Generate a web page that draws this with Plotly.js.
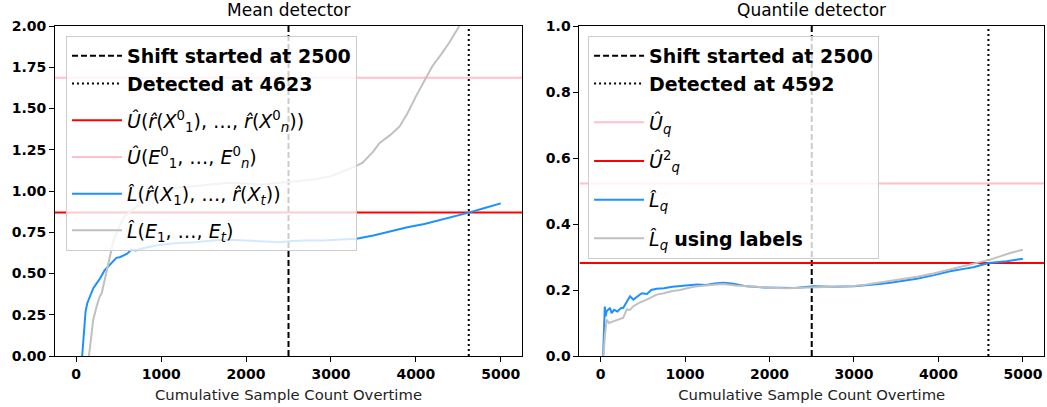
<!DOCTYPE html>
<html>
<head>
<meta charset="utf-8">
<script src="https://cdn.plot.ly/plotly-3.0.1.min.js"></script>
<style>html,body{margin:0;padding:0;background:#fff;}#chart{width:1047px;height:407px;}</style>
</head>
<body>
<div id="chart"></div>
<script>
// ---- Data ----
const xTicks = [0, 1000, 2000, 3000, 4000, 5000];
const xRange = [-250, 5250];

// Mean detector
const meanShift = 2500;
const meanDetected = 4623;
const meanUpperR = 0.869;   // Û(r̂(X^0_1..n))
const meanUpperE = 1.686;   // Û(E^0_1..n)
const meanLowerRx = [70, 90, 110, 130, 160, 200, 240, 280, 335, 380, 420, 473, 520, 560, 600, 650, 700, 800, 900, 1000, 1200, 1400, 1600, 1800, 2000, 2200, 2400, 2500, 2700, 2900, 3100, 3300, 3500, 3700, 3900, 4100, 4300, 4500, 4623, 4800, 5000];
const meanLowerRy = [0, 0.15, 0.27, 0.32, 0.36, 0.41, 0.44, 0.47, 0.52, 0.545, 0.57, 0.595, 0.60, 0.61, 0.62, 0.645, 0.64, 0.655, 0.665, 0.675, 0.685, 0.69, 0.70, 0.705, 0.70, 0.695, 0.69, 0.695, 0.70, 0.70, 0.705, 0.71, 0.73, 0.755, 0.78, 0.80, 0.825, 0.85, 0.869, 0.895, 0.925];
const meanLowerEx = [150, 175, 200, 240, 276, 300, 335, 360, 374, 400, 433, 470, 512, 560, 620, 700, 800, 900, 1000, 1200, 1400, 1600, 1800, 2000, 2200, 2400, 2600, 2800, 3000, 3200, 3370, 3500, 3570, 3700, 3806, 3900, 4002, 4100, 4194, 4300, 4394, 4512, 4700, 5000];
const meanLowerEy = [0, 0.12, 0.22, 0.30, 0.36, 0.38, 0.46, 0.52, 0.565, 0.62, 0.686, 0.74, 0.79, 0.84, 0.87, 0.90, 0.95, 0.98, 1.00, 1.02, 1.03, 1.04, 1.05, 1.045, 1.04, 1.05, 1.06, 1.07, 1.09, 1.13, 1.17, 1.24, 1.29, 1.34, 1.39, 1.47, 1.575, 1.67, 1.756, 1.83, 1.90, 2.0, 2.15, 2.35];

// Quantile detector
const quantShift = 2500;
const quantDetected = 4592;
const quantUpper = 0.523;   // Û_q
const quantUpper2 = 0.282;  // Û²_q
const quantLowerX = [30, 50, 60, 72, 90, 111, 130, 160, 200, 240, 269, 300, 348, 388, 430, 487, 550, 600, 664, 750, 850, 940, 1050, 1138, 1250, 1350, 1453, 1550, 1650, 1730, 1900, 2124, 2300, 2520, 2755, 3000, 3151, 3300, 3427, 3600, 3743, 3950, 4137, 4300, 4414, 4592, 4809, 5000];
const quantLowerY = [0, 0.15, 0.12, 0.136, 0.14, 0.146, 0.13, 0.14, 0.135, 0.145, 0.146, 0.16, 0.181, 0.171, 0.18, 0.19, 0.188, 0.20, 0.204, 0.205, 0.21, 0.2115, 0.214, 0.217, 0.215, 0.22, 0.222, 0.22, 0.215, 0.211, 0.208, 0.207, 0.206, 0.2115, 0.21, 0.211, 0.2136, 0.218, 0.222, 0.228, 0.234, 0.245, 0.257, 0.264, 0.269, 0.282, 0.287, 0.295];
const quantLabelX = [35, 50, 72, 100, 150, 200, 269, 309, 350, 388, 450, 546, 600, 664, 750, 850, 940, 1100, 1300, 1450, 1600, 1800, 2000, 2200, 2400, 2600, 2800, 3000, 3151, 3350, 3545, 3750, 3940, 4140, 4335, 4500, 4611, 4730, 4850, 5000];
const quantLabelY = [0, 0.06, 0.11, 0.10, 0.105, 0.11, 0.116, 0.141, 0.14, 0.151, 0.16, 0.171, 0.178, 0.186, 0.19, 0.197, 0.2, 0.21, 0.215, 0.218, 0.214, 0.21, 0.207, 0.205, 0.207, 0.209, 0.21, 0.212, 0.2167, 0.224, 0.232, 0.24, 0.25, 0.262, 0.274, 0.285, 0.292, 0.302, 0.312, 0.322];

// ---- Styles ----
const RED = '#ff0000', PINK = '#ffc0cb', BLUE = '#1e90ff', GREY = '#c0c0c0';
const FONT = 'DejaVu Sans, sans-serif';

function vline(x, yMax, dash, name, xa, ya, lg, grp) {
  return {x: [x, x], y: [0, yMax], mode: 'lines', name: name, xaxis: xa, yaxis: ya, legend: lg, legendgroup: grp,
          line: {color: '#000', width: 2, dash: dash}, hoverinfo: 'skip'};
}
function hline(y, color, name, xa, ya, lg, grp) {
  return {x: xRange, y: [y, y], mode: 'lines', name: name, xaxis: xa, yaxis: ya, legend: lg, legendgroup: grp,
          line: {color: color, width: 2}, hoverinfo: 'skip'};
}
function curve(x, y, color, name, xa, ya, lg, grp) {
  return {x: x, y: y, mode: 'lines', name: name, xaxis: xa, yaxis: ya, legend: lg, legendgroup: grp,
          line: {color: color, width: 2}, hoverinfo: 'skip'};
}
const DASH = '6px,3px', DOT = '2px,3px';

const traces = [
  vline(meanShift, 2, DASH, '<b>Shift started at ' + meanShift + '</b>', 'x', 'y', 'legend', 'a0'),
  vline(meanDetected, 2, DOT, '<b>Detected at ' + meanDetected + '</b>', 'x', 'y', 'legend', 'a0'),
  hline(meanUpperR, RED, '<i>Û</i>(<i>r̂</i>(<i>X</i><sup>0</sup><sub>1</sub>), …, <i>r̂</i>(<i>X</i><sup>0</sup><sub><i>n</i></sub>))', 'x', 'y', 'legend', 'a1'),
  hline(meanUpperE, PINK, '<i>Û</i>(<i>E</i><sup>0</sup><sub>1</sub>, …, <i>E</i><sup>0</sup><sub><i>n</i></sub>)', 'x', 'y', 'legend', 'a2'),
  curve(meanLowerRx, meanLowerRy, BLUE, '<i>L̂</i>(<i>r̂</i>(<i>X</i><sub>1</sub>), …, <i>r̂</i>(<i>X</i><sub><i>t</i></sub>))', 'x', 'y', 'legend', 'a3'),
  curve(meanLowerEx, meanLowerEy, GREY, '<i>L̂</i>(<i>E</i><sub>1</sub>, …, <i>E</i><sub><i>t</i></sub>)', 'x', 'y', 'legend', 'a4'),

  vline(quantShift, 1, DASH, '<b>Shift started at ' + quantShift + '</b>', 'x2', 'y2', 'legend2', 'b0'),
  vline(quantDetected, 1, DOT, '<b>Detected at ' + quantDetected + '</b>', 'x2', 'y2', 'legend2', 'b0'),
  hline(quantUpper, PINK, '<i>Û</i><sub><i>q</i></sub>', 'x2', 'y2', 'legend2', 'b1'),
  hline(quantUpper2, RED, '<i>Û</i><sup>2</sup><sub><i>q</i></sub>', 'x2', 'y2', 'legend2', 'b2'),
  curve(quantLowerX, quantLowerY, BLUE, '<i>L̂</i><sub><i>q</i></sub>', 'x2', 'y2', 'legend2', 'b3'),
  curve(quantLabelX, quantLabelY, GREY, '<i>L̂</i><sub><i>q</i></sub> <b>using labels</b>', 'x2', 'y2', 'legend2', 'b4')
];

const tickFont = {family: FONT, size: 14, weight: 'bold', color: '#000'};
const axisTitleFont = {family: FONT, size: 14.8, color: '#222'};
function xaxis(domain, anchor) {
  return {domain: domain, anchor: anchor, range: xRange, tickvals: xTicks, ticks: 'outside', ticklen: 5,
          tickcolor: '#000', showline: true, mirror: true, linecolor: '#000', linewidth: 1,
          showgrid: false, zeroline: false, tickfont: tickFont,
          title: {text: 'Cumulative Sample Count Overtime', font: axisTitleFont, standoff: 8}};
}
function yaxis(range, dtick, fmt, anchor) {
  return {range: range, anchor: anchor, dtick: dtick, tick0: 0, tickformat: fmt, ticks: 'outside', ticklen: 5,
          tickcolor: '#000', showline: true, mirror: true, linecolor: '#000', linewidth: 1,
          showgrid: false, zeroline: false, tickfont: tickFont};
}
const legendStyle = {bgcolor: 'rgba(255,255,255,0.8)', bordercolor: '#cccccc', borderwidth: 1,
                     font: {family: FONT, size: 19, color: '#000'}, xanchor: 'left', yanchor: 'top',
                     itemwidth: 50, traceorder: 'grouped'};

const layout = {
  width: 1047, height: 407,
  margin: {l: 55, r: 3, t: 26, b: 51},
  paper_bgcolor: '#fff', plot_bgcolor: '#fff',
  xaxis: xaxis([0, 0.4722], 'y'),
  yaxis: yaxis([0, 2], 0.25, '.2f', 'x'),
  xaxis2: xaxis([0.5303, 1], 'y2'),
  yaxis2: yaxis([0, 1], 0.2, '.1f', 'x2'),
  legend: Object.assign({x: 0.0111, y: 0.9697, tracegroupgap: 9}, legendStyle),
  legend2: Object.assign({x: 0.539, y: 0.9697, tracegroupgap: 11}, legendStyle),
  annotations: [
    {text: 'Mean detector', xref: 'paper', yref: 'paper', x: 0.2361, y: 1.0485, xanchor: 'center', yanchor: 'middle',
     showarrow: false, font: {family: FONT, size: 17, color: '#000'}},
    {text: 'Quantile detector', xref: 'paper', yref: 'paper', x: 0.7652, y: 1.0485, xanchor: 'center', yanchor: 'middle',
     showarrow: false, font: {family: FONT, size: 17, color: '#000'}}
  ],
  showlegend: true
};

Plotly.newPlot('chart', traces, layout, {staticPlot: true, displayModeBar: false});
</script>
</body>
</html>
